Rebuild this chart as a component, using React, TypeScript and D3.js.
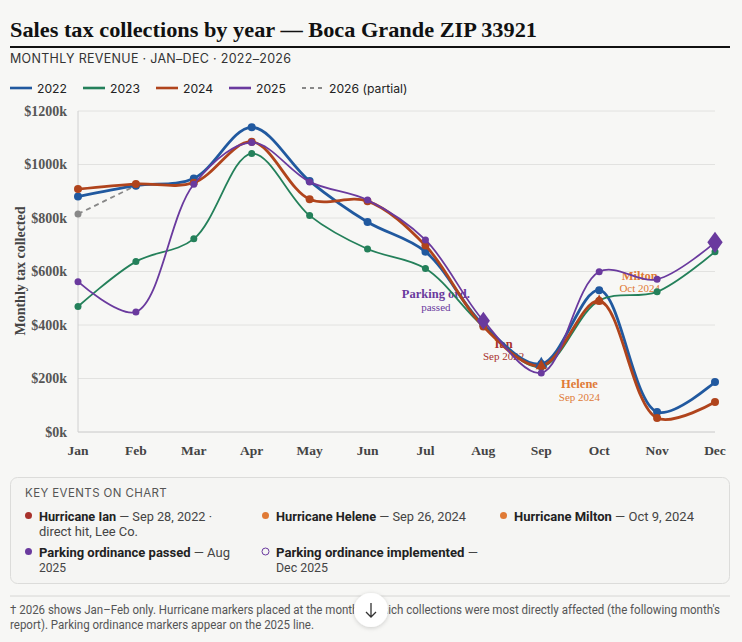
import React from 'react';
import * as d3 from 'd3';

const months = ['Jan', 'Feb', 'Mar', 'Apr', 'May', 'Jun', 'Jul', 'Aug', 'Sep', 'Oct', 'Nov', 'Dec'];
const yTicks = [0, 200, 400, 600, 800, 1000, 1200];

// monthly collections, $k
const v2022 = [880, 921, 948, 1139, 938, 785, 674, 400, 254, 530, 75, 187];
const v2023 = [469, 637, 722, 1041, 809, 684, 611, 394, 243, 492, 524, 674];
const v2024 = [908, 927, 932, 1085, 870, 863, 697, 394, 247, 490, 52, 112];
const v2025 = [562, 449, 926, 1082, 935, 867, 718, 416, 221, 599, 571, 709];
const v2026 = [815, 921];

const seriesInfo = [
  { key: '2022', values: v2022, color: '#21599f', width: 2.8, r: 4 },
  { key: '2023', values: v2023, color: '#24805a', width: 1.8, r: 3.5 },
  { key: '2024', values: v2024, color: '#b0441c', width: 2.8, r: 4 },
  { key: '2025', values: v2025, color: '#6a3a9e', width: 1.8, r: 3.5 },
];

// event markers on the lines
const eventMarks = [
  { series: '2022', month: 8, shape: 'triangle', size: 70 },
  { series: '2024', month: 8, shape: 'triangle', size: 55 },
  { series: '2024', month: 9, shape: 'triangle', size: 55 },
  { series: '2025', month: 7, shape: 'diamond', size: 95 },
  { series: '2025', month: 11, shape: 'diamond', size: 130 },
];

const annotations = [
  { month: 6.18, value: 500, title: 'Parking ord.', sub: 'passed', color: '#6a3a9e' },
  { month: 7.35, value: 315, title: 'Ian', sub: 'Sep 2022', color: '#a8322c' },
  { month: 8.66, value: 163, title: 'Helene', sub: 'Sep 2024', color: '#e07a35' },
  { month: 9.7, value: 570, title: 'Milton', sub: 'Oct 2024', color: '#e07a35' },
];

const keyEvents = [
  { col: 0, row: 0, color: '#a8322c', hollow: false, bold: 'Hurricane Ian', rest: [' — Sep 28, 2022 ·', 'direct hit, Lee Co.'], w: [173, 99] },
  { col: 1, row: 0, color: '#e07a35', hollow: false, bold: 'Hurricane Helene', rest: [' — Sep 26, 2024'], w: [190] },
  { col: 2, row: 0, color: '#e07a35', hollow: false, bold: 'Hurricane Milton', rest: [' — Oct 9, 2024'], w: [180] },
  { col: 0, row: 1, color: '#6a3a9e', hollow: false, bold: 'Parking ordinance passed', rest: [' — Aug', '2025'], w: [191, 27] },
  { col: 1, row: 1, color: '#6a3a9e', hollow: true, bold: 'Parking ordinance implemented', rest: [' —', 'Dec 2025'], w: [202, 52] },
];

const serif = "'Liberation Serif', 'DejaVu Serif', serif";
const sans = "Inter, 'Noto Sans', sans-serif";
const narrow = "Roboto, 'Liberation Sans', sans-serif";

export default function App() {
  const x = d3.scalePoint<string>().domain(months).range([78, 715]);
  const xi = d3.scaleLinear().domain([0, 11]).range([78, 715]);
  const y = d3.scaleLinear().domain([0, 1200]).range([432, 111]);

  const line = d3.line<number>()
    .x((_, i) => x(months[i]) as number)
    .y(d => y(d))
    .curve(d3.curveCatmullRom.alpha(0.5));

  const colorOf = (k: string) => seriesInfo.find(s => s.key === k)!;

  const legend = [
    ...seriesInfo.map(s => ({ label: s.key, color: s.color, dash: false })),
    { label: '2026 (partial)', color: '#888', dash: true },
  ];
  const legendX = [10, 83, 156, 229, 302];
  const colX = [25, 262, 500];
  const rowY = [516, 552];

  return (
    <div style={{ position: 'absolute', left: 0, top: 0, width: 742, height: 642, background: '#f7f7f5' }}>
      <svg width={742} height={642} style={{ display: 'block' }}>
        <defs>
          <filter id="sh" x="-50%" y="-50%" width="200%" height="200%">
            <feDropShadow dx="0" dy="1" stdDeviation="2" floodColor="#000" floodOpacity="0.18" />
          </filter>
        </defs>
        <text x={10} y={37} fontFamily={serif} fontWeight={700} fontSize={22} fill="#111"
          textLength={527} lengthAdjust="spacingAndGlyphs">
          Sales tax collections by year — Boca Grande ZIP 33921
        </text>
        <line x1={10} x2={730} y1={47} y2={47} stroke="#111" strokeWidth={2} />
        <text x={10} y={63} fontFamily={sans} fontSize={12.5} fill="#333" letterSpacing={0.3}>
          MONTHLY REVENUE · JAN–DEC · 2022–2026
        </text>

        {legend.map((l, i) => (
          <g key={l.label} transform={`translate(${legendX[i]},88)`}>
            <line x1={0} x2={22} y1={0} y2={0} stroke={l.color} strokeWidth={l.dash ? 1.8 : 2.6}
              strokeDasharray={l.dash ? '4 4' : undefined} />
            <text x={27} y={4.5} fontFamily={sans} fontSize={12.2} fill="#222">{l.label}</text>
          </g>
        ))}

        {/* grid + axes */}
        {yTicks.map(t => (
          <g key={t}>
            <line x1={78} x2={715} y1={y(t)} y2={y(t)} stroke={t === 0 ? '#c8c8c8' : '#e2e2e0'} strokeWidth={1} />
            <text x={67} y={y(t) + 4.5} textAnchor="end" fontFamily={serif} fontWeight={700} fontSize={14} fill="#555">
              ${t}k
            </text>
          </g>
        ))}
        <line x1={78} x2={78} y1={111} y2={432} stroke="#d0d0d0" />
        {months.map(m => (
          <text key={m} x={x(m)} y={455} textAnchor="middle" fontFamily={serif} fontWeight={700} fontSize={13.5} fill="#444">
            {m}
          </text>
        ))}
        <text transform="translate(25,271) rotate(-90)" textAnchor="middle" fontFamily={serif} fontWeight={700}
          fontSize={14} fill="#444">
          Monthly tax collected
        </text>

        {annotations.map(a => (
          <g key={a.title} fontFamily={serif} textAnchor="middle" fill={a.color}>
            <text x={xi(a.month)} y={y(a.value)} fontWeight={700} fontSize={12.5}>{a.title}</text>
            <text x={xi(a.month)} y={y(a.value) + 12.5} fontSize={11}>{a.sub}</text>
          </g>
        ))}

        {/* 2026 partial */}
        <path d={line(v2026) || ''} fill="none" stroke="#888" strokeWidth={1.8} strokeDasharray="5 4" />
        {v2026.map((v, i) => (
          <circle key={i} cx={x(months[i])} cy={y(v)} r={3.5} fill="#888" />
        ))}

        {seriesInfo.map(s => (
          <g key={s.key}>
            <path d={line(s.values) || ''} fill="none" stroke={s.color} strokeWidth={s.width} />
            {s.values.map((v, i) => (
              <circle key={i} cx={x(months[i])} cy={y(v)} r={s.r} fill={s.color} />
            ))}
          </g>
        ))}

        {eventMarks.map((e, i) => {
          const s = colorOf(e.series);
          const sym = d3.symbol().type(e.shape === 'triangle' ? d3.symbolTriangle : d3.symbolDiamond).size(e.size)();
          return (
            <path key={i} d={sym || ''} fill={s.color}
              transform={`translate(${x(months[e.month])},${y(s.values[e.month])})${e.shape === 'diamond' ? ' scale(1.25,1)' : ''}`} />
          );
        })}

        {/* key events box */}
        <rect x={10.5} y={477.5} width={719} height={106} rx={7} fill="#f5f5f3" stroke="#dcdcda" />
        <text x={25} y={497} fontFamily={sans} fontSize={11.5} fill="#555" letterSpacing={0.4}>KEY EVENTS ON CHART</text>
        {keyEvents.map(k => (
          <g key={k.bold} fontFamily={narrow} fontSize={12.8} fill="#222">
            <circle cx={colX[k.col] + 3.5} cy={rowY[k.row] - 0.5} r={3.5} fill={k.hollow ? 'none' : k.color}
              stroke={k.color} strokeWidth={k.hollow ? 1 : 0} />
            <text x={colX[k.col] + 14} y={rowY[k.row] + 4.5} textLength={k.w[0]} lengthAdjust="spacingAndGlyphs">
              <tspan fontWeight={700}>{k.bold}</tspan>
              <tspan fill="#444">{k.rest[0]}</tspan>
            </text>
            {k.rest[1] && (
              <text x={colX[k.col] + 14} y={rowY[k.row] + 20} fill="#444" textLength={k.w[1]}
                lengthAdjust="spacingAndGlyphs">{k.rest[1]}</text>
            )}
          </g>
        ))}

        <line x1={10} x2={730} y1={596} y2={596} stroke="#d6d6d4" />
        <g fontFamily={narrow} fontSize={12.5} fill="#555">
          <text x={10} y={614} textLength={710} lengthAdjust="spacingAndGlyphs">
            † 2026 shows Jan–Feb only. Hurricane markers placed at the month in which collections were most directly affected (the following month's
          </text>
          <text x={10} y={629} textLength={304} lengthAdjust="spacingAndGlyphs">
            report). Parking ordinance markers appear on the 2025 line.
          </text>
        </g>

        <g transform="translate(371,610)">
          <circle r={17} fill="#fff" filter="url(#sh)" />
          <path d="M0,-7 V7 M-5,2 L0,7 L5,2" fill="none" stroke="#333" strokeWidth={1.3} />
        </g>
      </svg>
    </div>
  );
}
